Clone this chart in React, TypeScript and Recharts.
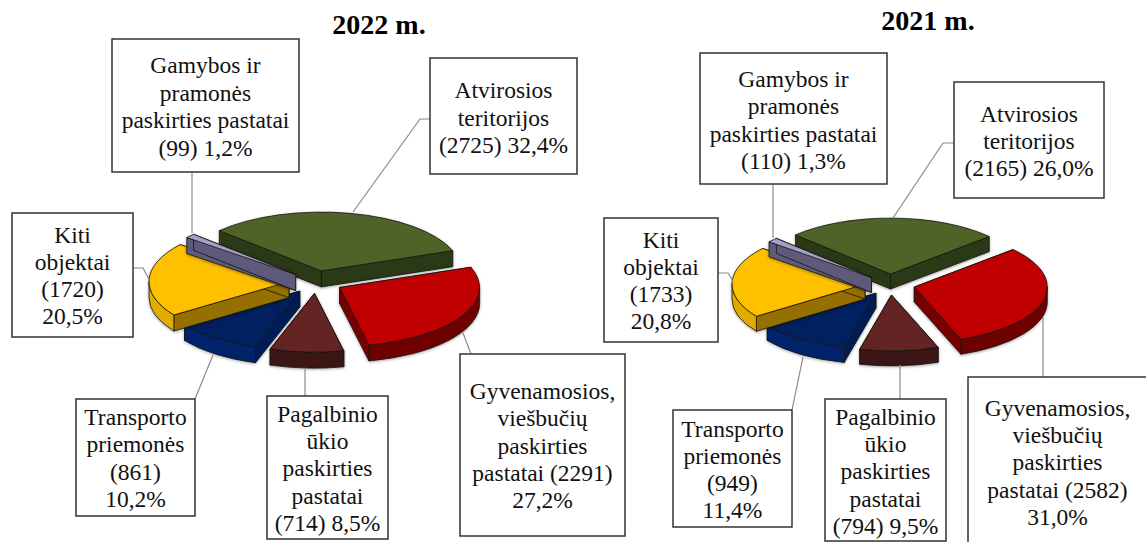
import React from 'react';
import { PieChart, Pie } from 'recharts';

const WIDTH = 1146;
const HEIGHT = 542;
const TILT = 0.42; // vertical squash of the pie plane
const SERIF = '"Liberation Serif", serif';

// order: clockwise from the green slice
const categories = [
  'Atvirosios teritorijos',
  'Gyvenamosios, viešbučių paskirties pastatai',
  'Pagalbinio ūkio paskirties pastatai',
  'Transporto priemonės',
  'Kiti objektai',
  'Gamybos ir pramonės paskirties pastatai',
];
const values2022 = [2725, 2291, 714, 861, 1720, 99];
const values2021 = [2165, 2582, 794, 949, 1733, 110];

const lines2022 = [
  ['Atvirosios', 'teritorijos', '(2725) 32,4%'],
  ['Gyvenamosios,', 'viešbučių', 'paskirties', 'pastatai (2291)', '27,2%'],
  ['Pagalbinio', 'ūkio', 'paskirties', 'pastatai', '(714) 8,5%'],
  ['Transporto', 'priemonės', '(861)', '10,2%'],
  ['Kiti', 'objektai', '(1720)', '20,5%'],
  ['Gamybos ir', 'pramonės', 'paskirties pastatai', '(99) 1,2%'],
];
const lines2021 = [
  ['Atvirosios', 'teritorijos', '(2165) 26,0%'],
  ['Gyvenamosios,', 'viešbučių', 'paskirties', 'pastatai (2582)', '31,0%'],
  ['Pagalbinio', 'ūkio', 'paskirties', 'pastatai', '(794) 9,5%'],
  ['Transporto', 'priemonės', '(949)', '11,4%'],
  ['Kiti', 'objektai', '(1733)', '20,8%'],
  ['Gamybos ir', 'pramonės', 'paskirties pastatai', '(110) 1,3%'],
];

const topColors = ['#4f6228', '#c00000', '#632523', '#002060', '#ffc000', '#a49fc6'];
const sideColors = ['#2b3a16', '#780000', '#3c1615', '#001c56', '#957000', '#5f5a7c'];
const rimColors = ['#2b3a16', '#6e0000', '#3c1615', '#00236c', '#e3aa00', '#5f5a7c'];

// box: [x, y, w, h], baseline of first line, line step, leader polyline
const boxes2022 = [
  { box: [430, 58, 147, 116], first: 98, step: 27.5, leader: '430,119 420,119 353,212' },
  { box: [460, 354, 165, 182], first: 399, step: 27.3, leader: '463,333 471,354' },
  { box: [267, 396, 121, 143], first: 422, step: 27.2, leader: '305,368 305,396' },
  { box: [76, 399, 119, 117], first: 425, step: 27.3, leader: '213,355 195,399' },
  { box: [12, 213, 121, 124], first: 243, step: 27, leader: '133,268 143,268 149,279' },
  { box: [112, 39, 187, 133], first: 73, step: 27.5, leader: '192,172 192,233' },
];
const boxes2021 = [
  { box: [954, 82, 150, 116], first: 122, step: 27, leader: '954,143 943,143 893,218' },
  { box: [968, 377, 179, 166], first: 416, step: 27.2, leader: '1043,317 1043,377' },
  { box: [825, 399, 121, 142], first: 425, step: 27.2, leader: '900,365 900,399' },
  { box: [673, 410, 119, 117], first: 437, step: 27, leader: '803,357 792,410' },
  { box: [604, 218, 114, 124], first: 248, step: 27, leader: '718,273 728,273 733,281' },
  { box: [700, 53, 187, 131], first: 87, step: 27.3, leader: '773,184 773,238' },
];

const withColors = (values: number[]) =>
  values.map((value, i) => ({
    name: categories[i],
    value,
    fill: topColors[i],
    side: sideColors[i],
    rim: rimColors[i],
  }));

const rad = (a: number) => (a * Math.PI) / 180;

// exploded slice on a tilted plane, extruded downwards
const slice3d = (explode: number, depth: number) => (props: any) => {
  const { cx, cy, outerRadius: r, startAngle, endAngle, fill, payload } = props;
  const side = payload?.side ?? props.side;
  const rim = payload?.rim ?? props.rim;
  const mid = (startAngle + endAngle) / 2;
  const ox = cx + explode * Math.cos(rad(mid));
  const oy = cy - TILT * explode * Math.sin(rad(mid));
  const px = (a: number) => ox + r * Math.cos(rad(a));
  const py = (a: number) => oy - TILT * r * Math.sin(rad(a));
  const hi = Math.max(startAngle, endAngle);
  const lo = Math.min(startAngle, endAngle);
  const arc = (a: number, b: number, dy: number) =>
    `A${r} ${TILT * r} 0 ${Math.abs(a - b) > 180 ? 1 : 0} ${a > b ? 1 : 0} ${px(b)} ${py(b) + dy}`;
  const wall = (a: number) =>
    `M${ox} ${oy}L${px(a)} ${py(a)}L${px(a)} ${py(a) + depth}L${ox} ${oy + depth}Z`;

  // parts of the rim that face the viewer (lower half of the ellipse)
  const rims: string[] = [];
  [[-180, 0], [-540, -360], [180, 360]].forEach(([f0, f1]) => {
    const a = Math.min(hi, f1);
    const b = Math.max(lo, f0);
    if (a > b) {
      rims.push(`M${px(a)} ${py(a)}${arc(a, b, 0)}L${px(b)} ${py(b) + depth}${arc(b, a, depth)}Z`);
    }
  });

  const line = { stroke: '#14140f', strokeWidth: 0.8, strokeLinejoin: 'round' as const };
  return (
    <g style={{ filter: 'drop-shadow(0 1px 1.5px rgba(0,0,0,0.35))' }}>
      <path d={wall(startAngle)} fill={side} {...line} />
      <path d={wall(endAngle)} fill={side} {...line} />
      {rims.map((d) => (
        <path key={d} d={d} fill={rim} {...line} />
      ))}
      <path d={`M${ox} ${oy}L${px(hi)} ${py(hi)}${arc(hi, lo, 0)}Z`} fill={fill} {...line} />
    </g>
  );
};

const boxLabel = (lines: string[][], boxes: typeof boxes2022) => (props: any) => {
  const { index } = props;
  const { box, first, step, leader } = boxes[index];
  const [x, y, w, h] = box;
  return (
    <g key={`${x}-${y}`}>
      <polyline points={leader} fill="none" stroke="#8a8a8a" strokeWidth={1.2} />
      <rect x={x} y={y} width={w} height={h} fill="#fff" stroke="#333" strokeWidth={1.5} />
      {lines[index].map((t, i) => (
        <text
          key={t}
          x={x + w / 2}
          y={first + i * step}
          textAnchor="middle"
          fontFamily={SERIF}
          fontSize={23.5}
          fill="#111"
        >
          {t}
        </text>
      ))}
    </g>
  );
};

export default function App() {
  return (
    <div style={{ position: 'absolute', left: 0, top: 0, width: WIDTH, height: HEIGHT, background: '#fff' }}>
      <PieChart width={WIDTH} height={HEIGHT} margin={{ top: 0, right: 0, bottom: 0, left: 0 }}>
        <Pie
          data={withColors(values2022)}
          dataKey="value"
          nameKey="name"
          cx={316}
          cy={282}
          innerRadius={0}
          outerRadius={140}
          startAngle={136.8}
          endAngle={-223.2}
          stroke="none"
          isAnimationActive={false}
          shape={slice3d(27, 16)}
          label={boxLabel(lines2022, boxes2022)}
          labelLine={false}
        />
        <Pie
          data={withColors(values2021)}
          dataKey="value"
          nameKey="name"
          cx={890}
          cy={284.5}
          innerRadius={0}
          outerRadius={133}
          startAngle={135.6}
          endAngle={-224.4}
          stroke="none"
          isAnimationActive={false}
          shape={slice3d(25, 15)}
          label={boxLabel(lines2021, boxes2021)}
          labelLine={false}
        />
        <text x={379} y={34} textAnchor="middle" fontFamily={SERIF} fontWeight="bold" fontSize={28} fill="#000">
          2022 m.
        </text>
        <text x={928} y={30} textAnchor="middle" fontFamily={SERIF} fontWeight="bold" fontSize={28} fill="#000">
          2021 m.
        </text>
      </PieChart>
    </div>
  );
}
